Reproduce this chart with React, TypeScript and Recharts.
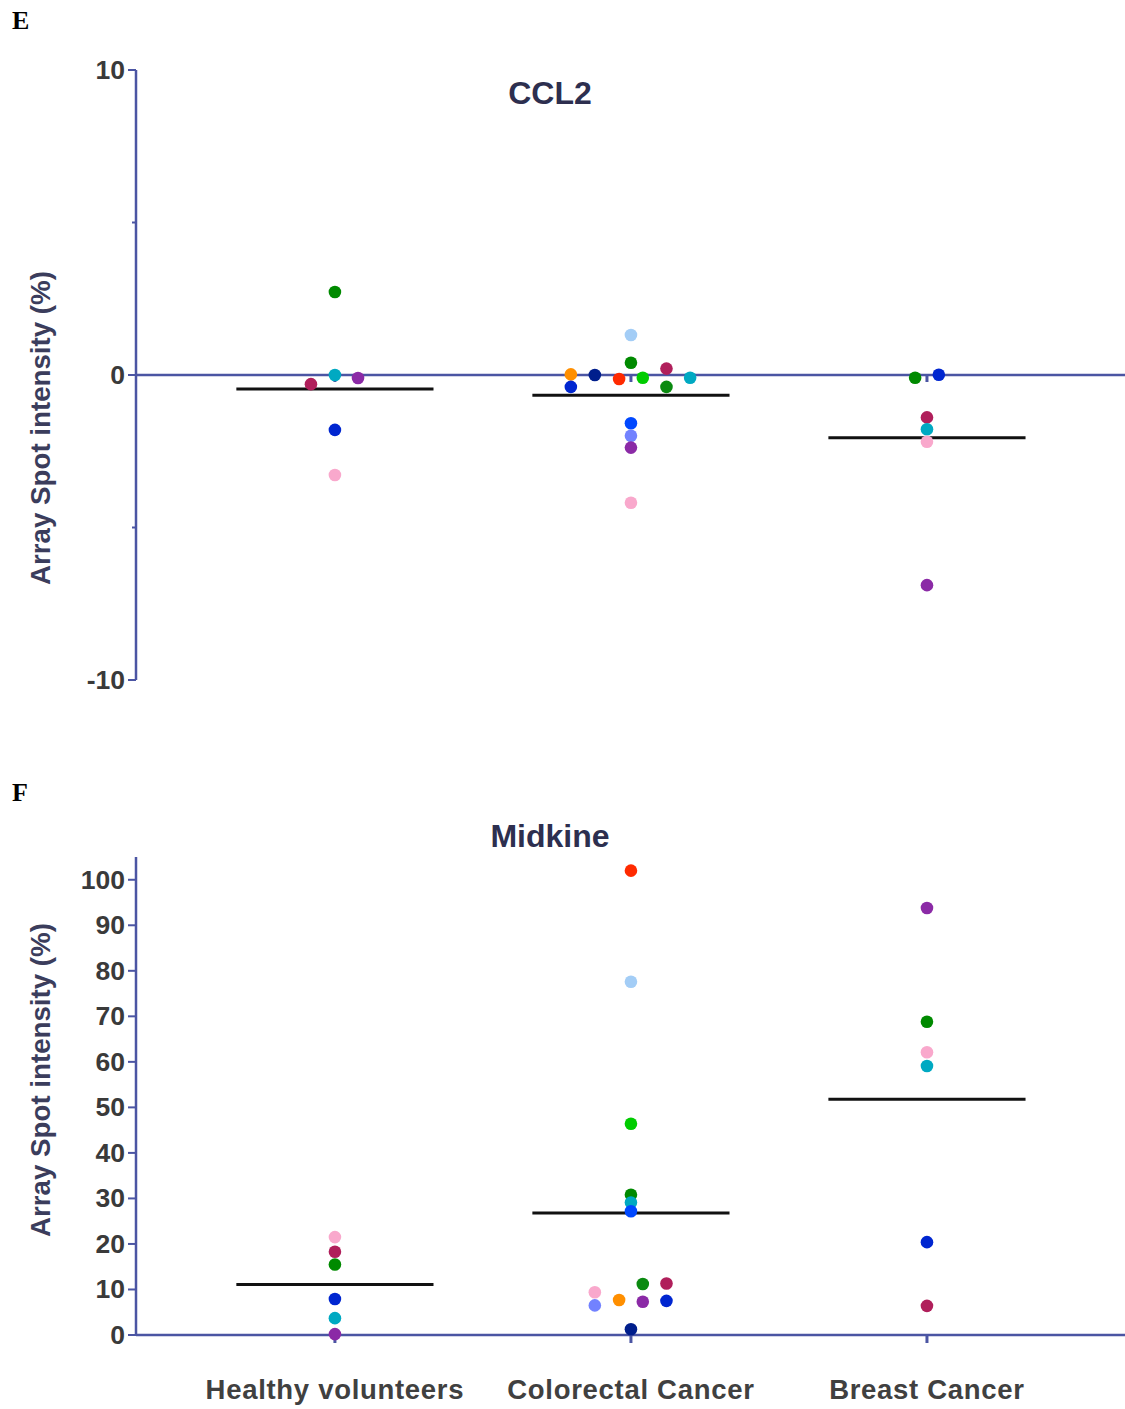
import React from "react";
import { ComposedChart, Scatter, XAxis, YAxis, ReferenceLine } from "recharts";

// ---------- data ----------
const categories = ["Healthy volunteers", "Colorectal Cancer", "Breast Cancer"];
const categoryTicks = [0, 1, 2];

const GREEN_D = "#008a00";
const GREEN_D2 = "#0a8a10";
const GREEN_B = "#00cc00";
const CYAN = "#00a9c2";
const PURPLE = "#8b2aa6";
const CRIMSON = "#b01f5b";
const BLUE = "#0026d0";
const BLUE_B = "#0048ff";
const PERI = "#7282ff";
const PINK = "#f9a8cc";
const LIGHTBLUE = "#a3cdf6";
const ORANGE = "#ff8f00";
const NAVY = "#001e8c";
const RED = "#ff2a00";

// Panel E: CCL2
const ccl2Ticks = [-10, -5, 0, 5, 10];
const ccl2MajorTicks = [-10, 0, 10];
const ccl2Means = [-0.46, -0.66, -2.06];

const ccl2HealthyValues = [2.72, 0.0, -0.1, -0.3, -1.8, -3.28];
const ccl2HealthyJitter = [0, 0, 0.078, -0.081, 0, 0];
const ccl2HealthyColors = [GREEN_D, CYAN, PURPLE, CRIMSON, BLUE, PINK];

const ccl2CrcValues = [1.31, 0.4, 0.02, 0.0, -0.13, -0.09, 0.21, -0.09, -0.39, -0.39, -1.58, -1.99, -2.38, -4.19];
const ccl2CrcJitter = [0, 0, -0.203, -0.122, -0.04, 0.04, 0.12, 0.2, -0.203, 0.12, 0, 0, 0, 0];
const ccl2CrcColors = [LIGHTBLUE, GREEN_D, ORANGE, NAVY, RED, GREEN_B, CRIMSON, CYAN, BLUE, GREEN_D2, BLUE_B, PERI, PURPLE, PINK];

const ccl2BreastValues = [-0.09, 0.01, -1.39, -1.78, -2.19, -6.89];
const ccl2BreastJitter = [-0.04, 0.04, 0, 0, 0, 0];
const ccl2BreastColors = [GREEN_D, BLUE, CRIMSON, CYAN, PINK, PURPLE];

// Panel F: Midkine
const midkineTicks = [0, 10, 20, 30, 40, 50, 60, 70, 80, 90, 100];
const midkineMeans = [11.1, 26.8, 51.8];

const midHealthyValues = [21.5, 18.3, 15.5, 7.9, 3.7, 0.2];
const midHealthyJitter = [0, 0, 0, 0, 0, 0];
const midHealthyColors = [PINK, CRIMSON, GREEN_D, BLUE, CYAN, PURPLE];

const midCrcValues = [102.0, 77.6, 46.4, 30.8, 29.1, 27.2, 9.4, 6.5, 7.7, 11.2, 7.3, 11.3, 7.5, 1.25];
const midCrcJitter = [0, 0, 0, 0, 0, 0, -0.122, -0.122, -0.04, 0.04, 0.04, 0.12, 0.12, 0];
const midCrcColors = [RED, LIGHTBLUE, GREEN_B, GREEN_D, CYAN, BLUE_B, PINK, PERI, ORANGE, GREEN_D2, PURPLE, CRIMSON, BLUE, NAVY];

const midBreastValues = [93.8, 68.8, 62.1, 59.1, 20.4, 6.4];
const midBreastJitter = [0, 0, 0, 0, 0, 0];
const midBreastColors = [PURPLE, GREEN_D, PINK, CYAN, BLUE, CRIMSON];

// ---------- helpers ----------
type Pt = { x: number; y: number; color: string };
const build = (g: number, values: number[], jitter: number[], colors: string[]): Pt[] =>
  values.map((v, i) => ({ x: g + jitter[i], y: v, color: colors[i] }));

const ccl2Points: Pt[] = [
  ...build(0, ccl2HealthyValues, ccl2HealthyJitter, ccl2HealthyColors),
  ...build(1, ccl2CrcValues, ccl2CrcJitter, ccl2CrcColors),
  ...build(2, ccl2BreastValues, ccl2BreastJitter, ccl2BreastColors),
];
const midPoints: Pt[] = [
  ...build(0, midHealthyValues, midHealthyJitter, midHealthyColors),
  ...build(1, midCrcValues, midCrcJitter, midCrcColors),
  ...build(2, midBreastValues, midBreastJitter, midBreastColors),
];
const zeroTickPoints = categoryTicks.map((c) => ({ x: c, y: 0 }));

const AXIS = "#4b55a3";
const FONT = "'Liberation Sans', Arial, Helvetica, sans-serif";
const X_DOMAIN: [number, number] = [-0.672, 2.669];
const HALF = 0.333;

const Dot = (p: any) =>
  p.cx == null ? null : <circle cx={p.cx} cy={p.cy} r={6.3} fill={p.payload.color} />;

const ZeroTick = (p: any) =>
  p.cx == null ? null : (
    <line x1={p.cx} x2={p.cx} y1={p.cy} y2={p.cy + 7} stroke={AXIS} strokeWidth={3} />
  );

const makeYTick = (majors: number[] | null) => (p: any) => {
  const { x, y, payload } = p;
  const v = payload.value;
  const isMajor = majors ? majors.includes(v) : true;
  const axisX = x + 11;
  return (
    <g>
      <line x1={axisX - (isMajor ? 8 : 4)} x2={axisX} y1={y} y2={y} stroke={AXIS} strokeWidth={2} />
      {isMajor && (
        <text
          x={x}
          y={y}
          textAnchor="end"
          dominantBaseline="central"
          fontFamily={FONT}
          fontWeight={700}
          fontSize={26.5}
          fill="#3a3a3a"
        >
          {v}
        </text>
      )}
    </g>
  );
};

const TopCatTick = (p: any) => (
  <text
    x={p.x}
    y={p.y + 139}
    textAnchor="middle"
    fontFamily={FONT}
    fontWeight={700}
    fontSize={27.5}
    letterSpacing={0.7}
    fill="#404040"
  >
    {categories[p.payload.value]}
  </text>
);

const BottomCatTick = (p: any) => (
  <text
    x={p.x}
    y={p.y + 20}
    textAnchor="middle"
    fontFamily={FONT}
    fontWeight={700}
    fontSize={27.5}
    letterSpacing={0.7}
    fill="#404040"
  >
    {categories[p.payload.value]}
  </text>
);

export default function App() {
  return (
    <div style={{ position: "absolute", left: 0, top: 0, width: 1125, height: 1409, background: "#fff" }}>
      {/* Panel E */}
      <div style={{ position: "absolute", left: 0, top: 0 }}>
        <ComposedChart width={1125} height={730} margin={{ top: 70, right: 0, bottom: 50, left: 0 }}>
          <XAxis
            type="number"
            dataKey="x"
            orientation="top"
            height={0}
            domain={X_DOMAIN}
            ticks={categoryTicks}
            allowDataOverflow
            axisLine={false}
            tickLine={false}
            tickSize={0}
            tickMargin={0}
            tick={TopCatTick}
            interval={0}
          />
          <YAxis
            type="number"
            dataKey="y"
            width={136}
            domain={[-10, 10]}
            ticks={ccl2Ticks}
            interval={0}
            axisLine={{ stroke: AXIS, strokeWidth: 2.5 }}
            tickLine={false}
            tickSize={8}
            tickMargin={3}
            tick={makeYTick(ccl2MajorTicks)}
          />
          <ReferenceLine y={0} stroke={AXIS} strokeWidth={2.5} />
          {ccl2Means.map((m, i) => (
            <ReferenceLine
              key={"m" + i}
              segment={[
                { x: categoryTicks[i] - HALF, y: m },
                { x: categoryTicks[i] + HALF, y: m },
              ]}
              stroke="#111"
              strokeWidth={3}
            />
          ))}
          <Scatter data={zeroTickPoints} shape={ZeroTick} isAnimationActive={false} />
          <Scatter data={ccl2Points} shape={Dot} isAnimationActive={false} />
        </ComposedChart>
      </div>

      {/* Panel F */}
      <div style={{ position: "absolute", left: 0, top: 760 }}>
        <ComposedChart width={1125} height={649} margin={{ top: 97, right: 0, bottom: 0, left: 0 }}>
          <XAxis
            type="number"
            dataKey="x"
            height={74}
            domain={X_DOMAIN}
            ticks={categoryTicks}
            allowDataOverflow
            interval={0}
            axisLine={{ stroke: AXIS, strokeWidth: 2.5 }}
            tickLine={{ stroke: AXIS, strokeWidth: 3 }}
            tickSize={8}
            tickMargin={36}
            tick={BottomCatTick}
          />
          <YAxis
            type="number"
            dataKey="y"
            width={136}
            domain={[0, 105]}
            ticks={midkineTicks}
            interval={0}
            axisLine={{ stroke: AXIS, strokeWidth: 2.5 }}
            tickLine={false}
            tickSize={8}
            tickMargin={3}
            tick={makeYTick(null)}
          />
          {midkineMeans.map((m, i) => (
            <ReferenceLine
              key={"m" + i}
              segment={[
                { x: categoryTicks[i] - HALF, y: m },
                { x: categoryTicks[i] + HALF, y: m },
              ]}
              stroke="#111"
              strokeWidth={3}
            />
          ))}
          <Scatter data={midPoints} shape={Dot} isAnimationActive={false} />
        </ComposedChart>
      </div>

      {/* Overlay texts */}
      <svg width={1125} height={1409} style={{ position: "absolute", left: 0, top: 0, pointerEvents: "none" }}>
        <text x={12} y={29} fontFamily="'Liberation Serif', 'Times New Roman', serif" fontWeight={700} fontSize={26} fill="#000">
          E
        </text>
        <text x={12} y={801} fontFamily="'Liberation Serif', 'Times New Roman', serif" fontWeight={700} fontSize={26} fill="#000">
          F
        </text>
        <text x={550} y={104} textAnchor="middle" fontFamily={FONT} fontWeight={700} fontSize={32} fill="#2d2f4f">
          CCL2
        </text>
        <text x={550} y={847} textAnchor="middle" fontFamily={FONT} fontWeight={700} fontSize={32} fill="#2d2f4f">
          Midkine
        </text>
        <text
          transform="translate(40,428) rotate(-90)"
          textAnchor="middle"
          dominantBaseline="central"
          fontFamily={FONT}
          fontWeight={700}
          fontSize={27.7}
          fill="#3b3d5c"
        >
          Array Spot intensity (%)
        </text>
        <text
          transform="translate(40,1080) rotate(-90)"
          textAnchor="middle"
          dominantBaseline="central"
          fontFamily={FONT}
          fontWeight={700}
          fontSize={27.7}
          fill="#3b3d5c"
        >
          Array Spot intensity (%)
        </text>
      </svg>
    </div>
  );
}
